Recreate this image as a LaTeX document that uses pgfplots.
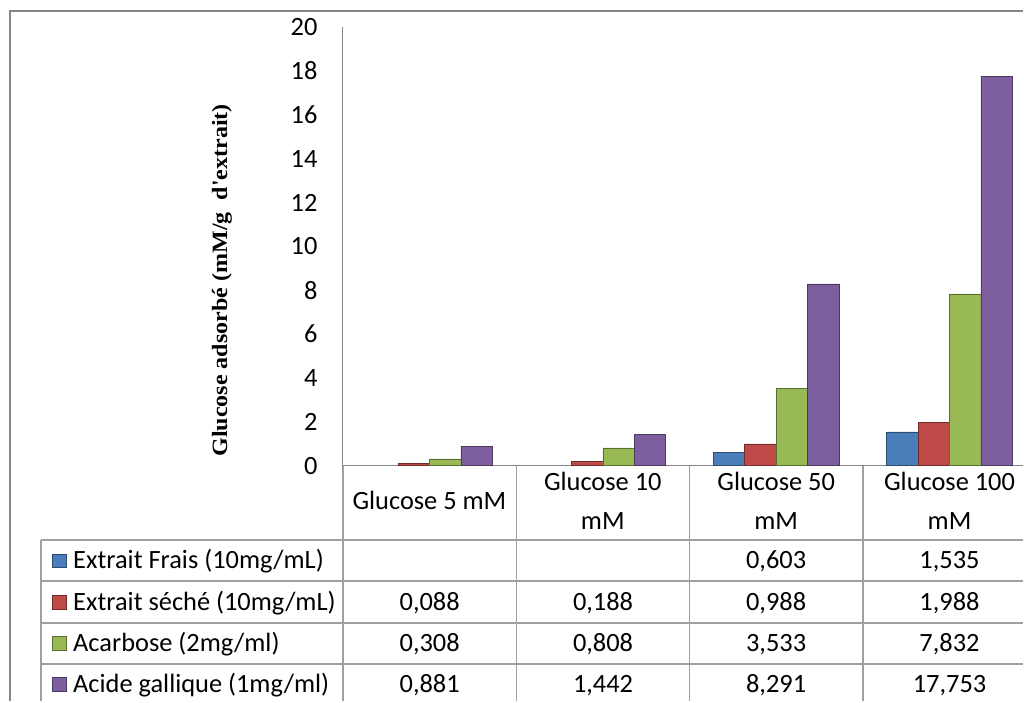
\documentclass[border=0pt]{standalone}
\usepackage{pgfplots}
\pgfplotsset{compat=1.18}
\usepackage{fontspec}
\setmainfont{Carlito}
\newfontfamily\ylabfont{Liberation Serif}[FakeStretch=1.1]
\definecolor{cBlue}{HTML}{4A7EBB}
\definecolor{cRed}{HTML}{BE4B48}
\definecolor{cGreen}{HTML}{98B954}
\definecolor{cPurple}{HTML}{7D5FA0}
\definecolor{frameGray}{HTML}{868686}
\definecolor{tabGray}{HTML}{A0A0A0}
\newcommand\tfont{\fontsize{19.8}{24}\selectfont}
\begin{document}
\begin{tikzpicture}
\begin{scope}[x=0.75pt,y=-0.75pt]
\useasboundingbox (0,0) rectangle (1024,702);
\fill[white] (0,0) rectangle (1024,702);
\end{scope}
\begin{axis}[
  at={(257.25pt,-349.5pt)}, anchor=south west,
  scale only axis, width=510.75pt, height=329.25pt,
  xmin=-0.5, xmax=3.425, ymin=0, ymax=20,
  enlargelimits=false,
  ybar=0pt, bar width=23.6pt,
  axis x line=bottom, axis y line=left,
  axis line style={draw=frameGray, line width=1.1pt, -},
  major tick length=0pt,
  xtick={0,1,2,3},
  xticklabels={Glucose 5 mM,{Glucose 10\\mM},{Glucose 50\\mM},{Glucose 100\\mM}},
  xticklabel style={font=\fontsize{19.8}{29.25}\selectfont, align=center, anchor=center, yshift=-26.25pt},
  ytick={0,2,...,20},
  yticklabel style={font=\tfont, anchor=east, inner sep=0pt, xshift=-18.75pt},
  /pgf/number format/assume math mode=true,
  every axis y label/.style={at={(rel axis cs:0,0.4225)}, xshift=-90.75pt, anchor=center, rotate=90},
  ylabel={\ylabfont\bfseries\fontsize{16.4}{19}\selectfont Glucose adsorbé (mM/g\ \ d\symbol{39}extrait)},
  clip=false,
]
\addplot[fill=cBlue, draw=cBlue!60!black, line width=0.4pt] coordinates {(2,0.603) (3,1.535)};
\addplot[fill=cRed, draw=cRed!60!black, line width=0.4pt] coordinates {(0,0.088) (1,0.188) (2,0.988) (3,1.988)};
\addplot[fill=cGreen, draw=cGreen!60!black, line width=0.4pt] coordinates {(0,0.308) (1,0.808) (2,3.533) (3,7.832)};
\addplot[fill=cPurple, draw=cPurple!60!black, line width=0.4pt] coordinates {(0,0.881) (1,1.442) (2,8.291) (3,17.753)};
\end{axis}
\begin{scope}[x=0.75pt,y=-0.75pt]
% outer frame
\draw[frameGray, line width=1.1pt] (1024,11) -- (10,11) -- (10,702);
% table grid
\begin{scope}[tabGray, line width=1.2pt]
\foreach \yy in {540.7,581.7,623.3,664.3} \draw (41,\yy) -- (1024,\yy);
\draw (41,540.7) -- (41,702);
\foreach \xx in {343,517,690,863.5} \draw (\xx,466) -- (\xx,702);
\end{scope}
% legend keys
\fill[cBlue, draw=cBlue!60!black, line width=0.4pt] (52,554.2) rectangle (66,568.2);
\fill[cRed, draw=cRed!60!black, line width=0.4pt] (52,595.5) rectangle (66,609.5);
\fill[cGreen, draw=cGreen!60!black, line width=0.4pt] (52,636.8) rectangle (66,650.8);
\fill[cPurple, draw=cPurple!60!black, line width=0.4pt] (52,677.8) rectangle (66,691.8);
\end{scope}
\begin{scope}[x=0.75pt,y=-0.75pt, every node/.style={anchor=base west, inner sep=0pt, font=\tfont}]
\node at (73,569.2) {Extrait Frais (10mg/mL)};
\node at (73,610.5) {Extrait séché (10mg/mL)};
\node at (73,651.8) {Acarbose (2mg/ml)};
\node at (73,692.8) {Acide gallique (1mg/ml)};
\end{scope}
\begin{scope}[x=0.75pt,y=-0.75pt, every node/.style={anchor=base, inner sep=0pt, font=\tfont}]
\node at (776.75,569.2) {0,603};
\node at (950.25,569.2) {1,535};
\node at (430,610.5) {0,088};
\node at (603.5,610.5) {0,188};
\node at (776.75,610.5) {0,988};
\node at (950.25,610.5) {1,988};
\node at (430,651.8) {0,308};
\node at (603.5,651.8) {0,808};
\node at (776.75,651.8) {3,533};
\node at (950.25,651.8) {7,832};
\node at (430,692.8) {0,881};
\node at (603.5,692.8) {1,442};
\node at (776.75,692.8) {8,291};
\node at (950.25,692.8) {17,753};
\end{scope}
\end{tikzpicture}
\end{document}
